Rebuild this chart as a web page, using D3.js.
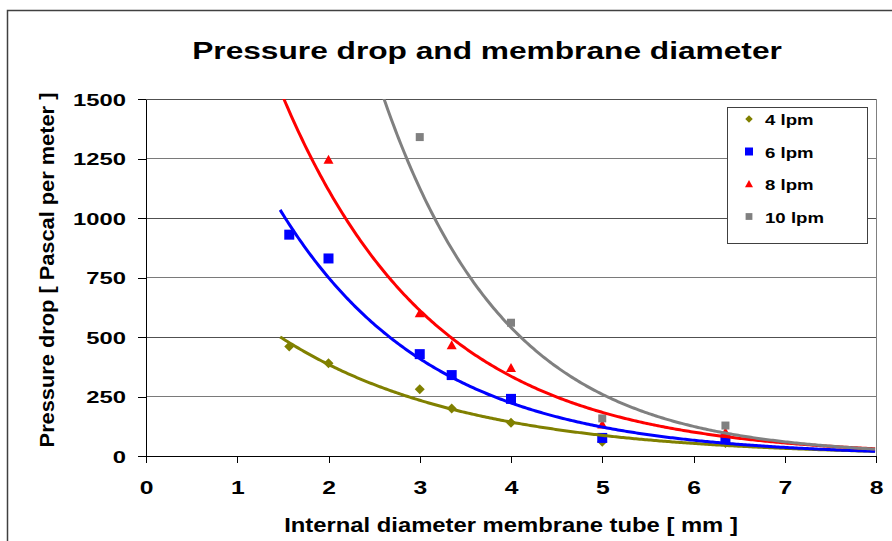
<!DOCTYPE html>
<html>
<head>
<meta charset="utf-8">
<script src="https://cdn.jsdelivr.net/npm/d3@7"></script>
<style>
  body { margin: 0; background: #fff; }
  text { font-family: "Liberation Sans", Arial, sans-serif; font-weight: bold; fill: #000; }
</style>
</head>
<body>
<div id="chart"></div>
<script>

const width = 892;
const height = 541;
const margin = {top: 99, right: 16, bottom: 85, left: 146};
const graphWidth = width - margin.left - margin.right;
const graphHeight = height - margin.top - margin.bottom;

// measured points, one pair of arrays per flow rate
const diam4 = [1.57, 2, 3, 3.35, 4, 5, 6.35];
const drop4 = [460, 390, 280, 200, 140, 60, 55];
const diam6 = [1.57, 2, 3, 3.35, 4, 5, 6.35];
const drop6 = [930, 830, 428, 340, 240, 76, 70];
const diam8 = [2, 3, 3.35, 4, 5, 6.35];
const drop8 = [1245, 600, 465, 370, 132, 100];
const diam10 = [3, 4, 5, 6.35];
const drop10 = [1340, 560, 158, 128];

const seriesNames = ["4 lpm", "6 lpm", "8 lpm", "10 lpm"];
const seriesColors = ["#808000", "#0000ff", "#ff0000", "#808080"];
const xTicks = [0, 1, 2, 3, 4, 5, 6, 7, 8];
const yTicks = [0, 250, 500, 750, 1000, 1250, 1500];

const series = [
  {name: seriesNames[0], xs: diam4, ys: drop4, color: seriesColors[0], shape: "diamond"},
  {name: seriesNames[1], xs: diam6, ys: drop6, color: seriesColors[1], shape: "square"},
  {name: seriesNames[2], xs: diam8, ys: drop8, color: seriesColors[2], shape: "triangle"},
  {name: seriesNames[3], xs: diam10, ys: drop10, color: seriesColors[3], shape: "small"}
];

// exponential trendline, least squares on ln(y) like the spreadsheet does
const expFit = (xs, ys) => {
  const ly = ys.map(v => Math.log(v));
  const mx = d3.mean(xs), my = d3.mean(ly);
  let sxy = 0, sxx = 0;
  xs.forEach((xv, i) => {
    sxy += (xv - mx) * (ly[i] - my);
    sxx += (xv - mx) * (xv - mx);
  });
  const b = sxy / sxx;
  const a = Math.exp(my - b * mx);
  return v => a * Math.exp(b * v);
}

// the picture is wider than the font, so widen the glyphs
const stretch = (sel, k) => sel.each(function() {
  const t = d3.select(this);
  const x0 = +t.attr("x") || 0;
  t.attr("x", x0 / k).attr("transform", "scale(" + k + ",1)");
});

// text placed at (px,py), rotated, and widened so it spans w pixels
const label = (str, px, py, size, w, rot) => {
  const g = svg.append("g");
  const t = g.append("text")
    .attr("text-anchor", "middle")
    .style("font-size", size + "px")
    .text(str);
  const k = w / t.node().getComputedTextLength();
  g.attr("transform", "translate(" + px + "," + py + ") rotate(" + (rot || 0) + ") scale(" + k + ",1)");
}

const svg = d3.select("#chart")
  .append("svg")
  .attr("width", width)
  .attr("height", height);

// outer chart border
svg.append("rect")
  .attr("x", 7.5).attr("y", 10.5)
  .attr("width", 1000).attr("height", 1000)
  .attr("fill", "#fff")
  .attr("stroke", "#404040")
  .attr("stroke-width", 1.5);

label("Pressure drop and membrane diameter", 487, 59, 23, 590);

const x = d3.scaleLinear().domain([0, 8]).range([0, graphWidth]);
const y = d3.scaleLinear().domain([0, 1500]).range([graphHeight, 0]);

const graph = svg.append("g")
  .attr("transform", "translate(" + margin.left + "," + margin.top + ")");

graph.append("clipPath").attr("id", "plotClip")
  .append("rect").attr("width", graphWidth).attr("height", graphHeight);

// gridlines
graph.selectAll(".grid")
  .data(yTicks.filter(d => d > 0))
  .enter()
  .append("line")
    .attr("x1", 0).attr("x2", graphWidth)
    .attr("y1", d => y(d)).attr("y2", d => y(d))
    .attr("stroke", (d, i) => i % 2 ? "#505050" : "#7a7a7a")
    .attr("stroke-width", 1)
    .attr("shape-rendering", "crispEdges");

graph.append("line")
  .attr("x1", graphWidth).attr("x2", graphWidth)
  .attr("y1", 0).attr("y2", graphHeight)
  .attr("stroke", "#808080")
  .attr("shape-rendering", "crispEdges");

const yAxis = graph.append("g")
  .attr("class", "y axis")
  .call(d3.axisLeft(y).tickValues(yTicks).tickFormat(d3.format("d"))
    .tickSize(8).tickSizeOuter(0).tickPadding(12));

const xAxis = graph.append("g")
  .attr("class", "x axis")
  .attr("transform", "translate(0," + graphHeight + ")")
  .call(d3.axisBottom(x).tickValues(xTicks).tickSize(7).tickSizeOuter(0).tickPadding(18));

graph.selectAll(".axis").attr("font-family", null).attr("font-size", null);
graph.selectAll(".axis path, .axis line").attr("stroke", "#000").attr("shape-rendering", "crispEdges");
yAxis.selectAll("text").attr("dy", "0.38em").style("font-size", "17px").call(stretch, 1.4);
xAxis.selectAll("text").style("font-size", "19px").call(stretch, 1.3);

label("Internal diameter membrane tube [ mm ]", 511, 532, 19.5, 454);
label("Pressure drop [ Pascal per meter ]", 54, 270, 21, 355, -90);

const markerPath = (shape) => {
  if (shape === "diamond") return "M0,-5L5,0L0,5L-5,0Z";
  if (shape === "square") return "M-5,-5H5V5H-5Z";
  if (shape === "triangle") return "M0,-5L5,4L-5,4Z";
  return "M-4,-4H4V4H-4Z";
}

// markers first, trendlines are drawn over them
series.forEach(s => {
  graph.selectAll(null)
    .data(s.xs.map((d, i) => ({x: d, y: s.ys[i]})))
    .enter()
    .append("path")
      .attr("d", markerPath(s.shape))
      .attr("transform", d => "translate(" + x(d.x) + "," + y(d.y) + ")")
      .attr("fill", s.color);
});

const line = d3.line().x(d => x(d[0])).y(d => y(d[1]));
const trendX = d3.range(1.47, 8.001, 0.02);

series.forEach(s => {
  const f = expFit(s.xs, s.ys);
  graph.append("path")
    .attr("clip-path", "url(#plotClip)")
    .attr("d", line(trendX.map(v => [v, f(v)])))
    .attr("fill", "none")
    .attr("stroke", s.color)
    .attr("stroke-width", 3);
});

// legend
const legend = svg.append("g").attr("transform", "translate(727,107)");
legend.append("rect")
  .attr("x", 0.5).attr("y", 0.5)
  .attr("width", 140).attr("height", 136)
  .attr("fill", "#fff")
  .attr("stroke", "#404040");

const legendSize = {diamond: 0.75, square: 0.8, triangle: 0.8, small: 0.85};
series.forEach((s, i) => {
  const ly = 12 + i * 32.5;
  legend.append("path")
    .attr("d", markerPath(s.shape))
    .attr("transform", "translate(22," + ly + ") scale(" + legendSize[s.shape] + ")")
    .attr("fill", s.color);
  legend.append("g")
    .attr("transform", "translate(38," + (ly + 6) + ")")
    .append("text")
      .style("font-size", "14px")
      .text(s.name)
      .call(stretch, 1.33);
});

</script>
</body>
</html>
